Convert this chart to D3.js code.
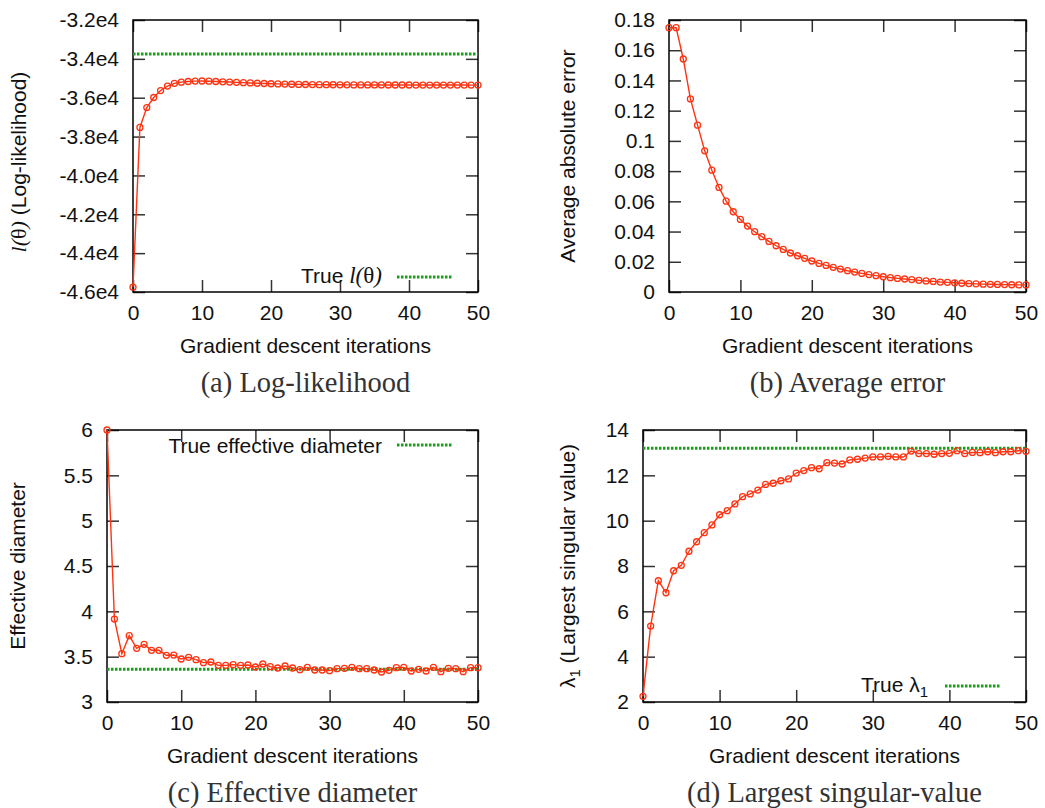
<!DOCTYPE html>
<html>
<head>
<meta charset="utf-8">
<script src="https://cdn.jsdelivr.net/npm/d3@7"></script>
<style>
  html, body { margin: 0; padding: 0; background: #fff; }
  svg { display: block; }
</style>
</head>
<body>
<svg id="chart" width="1045" height="808"></svg>
<script>
// ---------------- DATA ----------------
const iterations = [0,1,2,3,4,5,6,7,8,9,10,11,12,13,14,15,16,17,18,19,20,21,22,23,24,25,26,27,28,29,30,31,32,33,34,35,36,37,38,39,40,41,42,43,44,45,46,47,48,49,50];

const logLikelihood = [-45750,-37530,-36510,-35990,-35630,-35400,-35260,-35200,-35165,-35145,
  -35140,-35150,-35165,-35180,-35195,-35210,-35225,-35240,-35255,-35268,
  -35280,-35290,-35300,-35308,-35315,-35320,-35325,-35328,-35331,-35334,
  -35336,-35338,-35340,-35341,-35342,-35343,-35344,-35345,-35345,-35346,
  -35346,-35347,-35347,-35348,-35348,-35348,-35349,-35349,-35349,-35350,-35350];
const trueLogLikelihood = -33750;

const averageError = [0.1749,0.1749,0.1542,0.1278,0.1104,0.0934,0.0806,0.0692,0.0601,0.0531,
  0.0480,0.0436,0.0399,0.0366,0.0335,0.0306,0.0282,0.0258,0.0240,0.0223,
  0.0205,0.0189,0.0176,0.0163,0.0152,0.0141,0.0132,0.0123,0.0115,0.0108,
  0.0101,0.0095,0.0090,0.0086,0.0082,0.0077,0.0073,0.0070,0.0066,0.0064,
  0.0061,0.0058,0.0056,0.0054,0.0052,0.0051,0.0050,0.0049,0.0048,0.0047,0.0047];

const effectiveDiameter = [6.0,3.915,3.533,3.732,3.592,3.636,3.570,3.570,3.515,3.518,
  3.474,3.493,3.467,3.434,3.441,3.404,3.404,3.412,3.404,3.408,
  3.386,3.419,3.390,3.375,3.397,3.375,3.357,3.382,3.353,3.353,
  3.346,3.368,3.371,3.382,3.368,3.368,3.353,3.331,3.349,3.379,
  3.382,3.342,3.360,3.342,3.382,3.335,3.371,3.368,3.335,3.379,3.379];
const trueEffectiveDiameter = 3.36;

const largestSingularValue = [2.25,5.35,7.35,6.82,7.79,8.03,8.65,9.07,9.47,9.81,
  10.26,10.44,10.74,11.06,11.18,11.35,11.60,11.65,11.76,11.84,
  12.10,12.21,12.34,12.29,12.56,12.54,12.50,12.68,12.71,12.76,
  12.81,12.81,12.84,12.81,12.81,13.07,12.96,12.96,12.93,12.96,
  12.97,13.09,12.96,13.01,13.00,13.04,13.00,13.04,13.04,13.09,13.06];
const trueLargestSingularValue = 13.19;

const xTicks = [0,10,20,30,40,50];
const xTickLabels = ["0","10","20","30","40","50"];

const yTicksA = [-32000,-34000,-36000,-38000,-40000,-42000,-44000,-46000];
const yTickLabelsA = ["-3.2e4","-3.4e4","-3.6e4","-3.8e4","-4.0e4","-4.2e4","-4.4e4","-4.6e4"];
const yTicksB = [0,0.02,0.04,0.06,0.08,0.1,0.12,0.14,0.16,0.18];
const yTickLabelsB = ["0","0.02","0.04","0.06","0.08","0.1","0.12","0.14","0.16","0.18"];
const yTicksC = [3,3.5,4,4.5,5,5.5,6];
const yTickLabelsC = ["3","3.5","4","4.5","5","5.5","6"];
const yTicksD = [2,4,6,8,10,12,14];
const yTickLabelsD = ["2","4","6","8","10","12","14"];

const xTitle = "Gradient descent iterations";
const captions = ["(a) Log-likelihood","(b) Average error","(c) Effective diameter","(d) Largest singular-value"];

// ---------------- STYLE ----------------
const SANS = "'Liberation Sans', Arial, Helvetica, sans-serif";
const SERIF = "'Liberation Serif', 'Times New Roman', serif";
const FS = 21;
const RED = "#ff3311";
const GREEN = "#17a017";
const TICKC = "#333";

const svg = d3.select("#chart");

function panel(cfg) {
  const g = svg.append("g");
  const x = d3.scaleLinear().domain([0, 50]).range([cfg.left, cfg.right]);
  const y = d3.scaleLinear().domain(cfg.yDomain).range([cfg.bottom, cfg.top]);

  const styleAxis = sel => {
    sel.select(".domain").remove();
    sel.selectAll(".tick line").attr("stroke", TICKC).attr("stroke-width", 1.5);
    sel.selectAll(".tick text").attr("font-family", SANS).attr("font-size", FS).attr("fill", "#111");
  };

  g.append("g").attr("transform", `translate(0,${cfg.bottom})`)
    .call(d3.axisBottom(x).tickValues(xTicks).tickFormat((d, i) => xTickLabels[i])
      .tickSizeInner(-12).tickSizeOuter(0).tickPadding(13.5))
    .call(styleAxis);
  g.append("g").attr("transform", `translate(0,${cfg.top})`)
    .call(d3.axisTop(x).tickValues(xTicks).tickFormat("").tickSizeInner(-12).tickSizeOuter(0))
    .call(styleAxis);
  g.append("g").attr("transform", `translate(${cfg.left},0)`)
    .call(d3.axisLeft(y).tickValues(cfg.yTicks).tickFormat((d, i) => cfg.yLabels[i])
      .tickSizeInner(-12).tickSizeOuter(0).tickPadding(14))
    .call(styleAxis);
  g.append("g").attr("transform", `translate(${cfg.right},0)`)
    .call(d3.axisRight(y).tickValues(cfg.yTicks).tickFormat("").tickSizeInner(-12).tickSizeOuter(0))
    .call(styleAxis);

  g.append("rect")
    .attr("x", cfg.left).attr("y", cfg.top)
    .attr("width", cfg.right - cfg.left).attr("height", cfg.bottom - cfg.top)
    .attr("fill", "none").attr("stroke", "#000").attr("stroke-width", 1.5);

  if (cfg.legend) {
    const lg = cfg.legend;
    const t = g.append("text")
      .attr("x", lg.textX).attr("y", lg.textY)
      .attr("text-anchor", "end")
      .attr("font-family", SANS).attr("font-size", FS).attr("fill", "#111");
    lg.build(t);
    g.append("line")
      .attr("x1", lg.lineX1).attr("x2", lg.lineX2)
      .attr("y1", lg.lineY).attr("y2", lg.lineY)
      .attr("stroke", GREEN).attr("stroke-width", 3).attr("stroke-dasharray", "2.5,1.5");
  }

  if (cfg.trueValue !== undefined) {
    g.append("line")
      .attr("x1", x(0)).attr("x2", x(50))
      .attr("y1", y(cfg.trueValue)).attr("y2", y(cfg.trueValue))
      .attr("stroke", GREEN).attr("stroke-width", 3).attr("stroke-dasharray", "2.5,1.5");
  }

  const pts = iterations.map((it, i) => [it, cfg.values[i]]);
  g.append("path")
    .datum(pts)
    .attr("fill", "none").attr("stroke", RED).attr("stroke-width", 1.4)
    .attr("d", d3.line().x(d => x(d[0])).y(d => y(d[1])));
  g.selectAll("circle.pt").data(pts).join("circle")
    .attr("class", "pt")
    .attr("cx", d => x(d[0])).attr("cy", d => y(d[1])).attr("r", 3)
    .attr("fill", "none").attr("stroke", RED).attr("stroke-width", 1.3);

  g.append("text")
    .attr("x", (cfg.left + cfg.right) / 2).attr("y", cfg.bottom + 61)
    .attr("text-anchor", "middle")
    .attr("font-family", SANS).attr("font-size", FS).attr("fill", "#111")
    .text(xTitle);

  const yt = g.append("text")
    .attr("transform", `translate(${cfg.yTitleX},${(cfg.top + cfg.bottom) / 2 + cfg.yTitleDy}) rotate(-90)`)
    .attr("text-anchor", "middle")
    .attr("font-family", SANS).attr("font-size", FS).attr("fill", "#111");
  cfg.yTitle(yt);

  g.append("text")
    .attr("x", (cfg.left + cfg.right) / 2).attr("y", cfg.bottom + 100)
    .attr("text-anchor", "middle")
    .attr("font-family", SERIF).attr("font-size", 28.5).attr("fill", "#333")
    .text(cfg.caption);
}

function thetaSpans(t, size) {
  t.append("tspan").attr("font-family", SERIF).attr("font-style", "italic").attr("font-size", size).text("l(");
  t.append("tspan").attr("font-family", SERIF).attr("font-size", size).text("θ");
  t.append("tspan").attr("font-family", SERIF).attr("font-style", "italic").attr("font-size", size).text(")");
}

panel({
  left: 133, right: 478, top: 20, bottom: 292,
  yDomain: [-46000, -32000], yTicks: yTicksA, yLabels: yTickLabelsA,
  values: logLikelihood, trueValue: trueLogLikelihood,
  yTitleX: 26, yTitleDy: 6,
  yTitle: t => { thetaSpans(t, 22); t.append("tspan").text(" (Log-likelihood)"); },
  legend: { textX: 382, textY: 283, lineX1: 397, lineX2: 452, lineY: 277,
    build: t => { t.append("tspan").text("True "); thetaSpans(t, 23); } },
  caption: captions[0]
});

panel({
  left: 669, right: 1026, top: 20, bottom: 292,
  yDomain: [0, 0.18], yTicks: yTicksB, yLabels: yTickLabelsB,
  values: averageError,
  yTitleX: 575, yTitleDy: 0,
  yTitle: t => t.text("Average absolute error"),
  caption: captions[1]
});

panel({
  left: 107, right: 478, top: 430, bottom: 702,
  yDomain: [3, 6], yTicks: yTicksC, yLabels: yTickLabelsC,
  values: effectiveDiameter, trueValue: trueEffectiveDiameter,
  yTitleX: 25, yTitleDy: 0,
  yTitle: t => t.text("Effective diameter"),
  legend: { textX: 382, textY: 453, lineX1: 397, lineX2: 452, lineY: 445,
    build: t => t.text("True effective diameter") },
  caption: captions[2]
});

panel({
  left: 643, right: 1026, top: 430, bottom: 702,
  yDomain: [2, 14], yTicks: yTicksD, yLabels: yTickLabelsD,
  values: largestSingularValue, trueValue: trueLargestSingularValue,
  yTitleX: 575, yTitleDy: 0,
  yTitle: t => {
    t.append("tspan").text("λ");
    t.append("tspan").attr("font-size", 15).attr("dy", 5).text("1");
    t.append("tspan").attr("dy", -5).text("  (Largest singular value)");
  },
  legend: { textX: 928, textY: 692, lineX1: 945, lineX2: 1000, lineY: 686,
    build: t => {
      t.append("tspan").text("True λ");
      t.append("tspan").attr("font-size", 15).attr("dy", 5).text("1");
    } },
  caption: captions[3]
});
</script>
</body>
</html>
